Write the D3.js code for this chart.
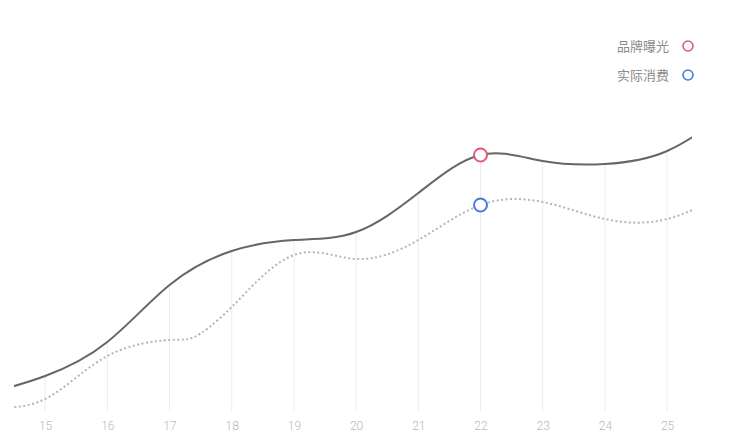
<!DOCTYPE html>
<html><head><meta charset="utf-8">
<script src="https://cdn.jsdelivr.net/npm/d3@7"></script>
<style>html,body{margin:0;padding:0;background:#fff;}svg{display:block;font-family:"Noto Sans CJK SC","Noto Sans",sans-serif;}</style>
</head><body>
<svg id="chart" width="730" height="440"></svg>
<script>
const seriesNames = ["品牌曝光", "实际消费"];
const xTicks = [15, 16, 17, 18, 19, 20, 21, 22, 23, 24, 25];
const exposureX = [14, 15, 16, 17, 18, 19, 20, 21, 22, 23, 24, 25, 26];
const exposureY = [17, 36, 70, 127, 161, 172, 180, 219, 257, 251, 248, 261, 301];
const spendX = [14, 15, 16, 17, 17.4, 18, 19, 20, 21, 22, 23, 24, 25, 26];
const spendY = [5, 13, 56, 72, 75, 105, 157, 153, 172, 207, 210, 193, 193, 221];
const highlightX = 22;
const colors = ["#e05a7a", "#4a78e0"];

const svg = d3.select("#chart");
const x = d3.scaleLinear().domain([14.5, 25.4]).range([14, 692]);
const y = d3.scaleLinear().domain([0, 300]).range([412, 112]);

svg.append("defs").append("clipPath").attr("id", "plot")
  .append("rect").attr("x", x(14.5)).attr("y", 0).attr("width", x(25.4) - x(14.5)).attr("height", 440);

const exposure = exposureX.map((v, i) => ({x: v, y: exposureY[i]}));
const spend = spendX.map((v, i) => ({x: v, y: spendY[i]}));

// drop lines from the exposure curve
const grid = svg.append("g");
xTicks.forEach(t => {
  const d = exposure.find(p => p.x === t);
  grid.append("line")
    .attr("x1", x(t)).attr("x2", x(t))
    .attr("y1", y(d.y)).attr("y2", 411)
    .attr("stroke", "#ececec").attr("stroke-width", 1);
});

// x axis labels
const axis = d3.axisBottom(x).tickValues(xTicks).tickSize(0).tickPadding(0).tickFormat(d3.format("d"));
const ax = svg.append("g").attr("transform", "translate(0,421)").call(axis);
ax.select(".domain").remove();
ax.selectAll("text").attr("fill", "#b8b8b8").attr("font-size", 12).attr("dy", "0.71em")
  .style("font-family", "Roboto, 'Noto Sans', sans-serif").style("font-weight", 300);

const line = d3.line().x(d => x(d.x)).y(d => y(d.y)).curve(d3.curveNatural);
const lines = svg.append("g").attr("clip-path", "url(#plot)");

lines.append("path").datum(spend).attr("d", line)
  .attr("fill", "none").attr("stroke", "#b5b5b5").attr("stroke-width", 2)
  .attr("stroke-dasharray", "2,2.5");

lines.append("path").datum(exposure).attr("d", line)
  .attr("fill", "none").attr("stroke", "#666").attr("stroke-width", 2);

// highlight points
const hE = exposure.find(p => p.x === highlightX);
const hS = spend.find(p => p.x === highlightX);
[[hE, colors[0]], [hS, colors[1]]].forEach(([p, c]) => {
  svg.append("circle").attr("cx", x(p.x)).attr("cy", y(p.y)).attr("r", 6.5)
    .attr("fill", "#fff").attr("stroke", c).attr("stroke-width", 2);
});

// legend
const legend = svg.append("g");
seriesNames.forEach((n, i) => {
  const ly = 46 + i * 29;
  legend.append("text").attr("x", 669).attr("y", ly).attr("dy", "0.35em")
    .attr("text-anchor", "end").attr("font-size", 13).attr("fill", "#8c8c8c").text(n);
  legend.append("circle").attr("cx", 688).attr("cy", ly).attr("r", 5)
    .attr("fill", "#fff").attr("stroke", colors[i]).attr("stroke-width", 1.6);
});
</script>
</body></html>
